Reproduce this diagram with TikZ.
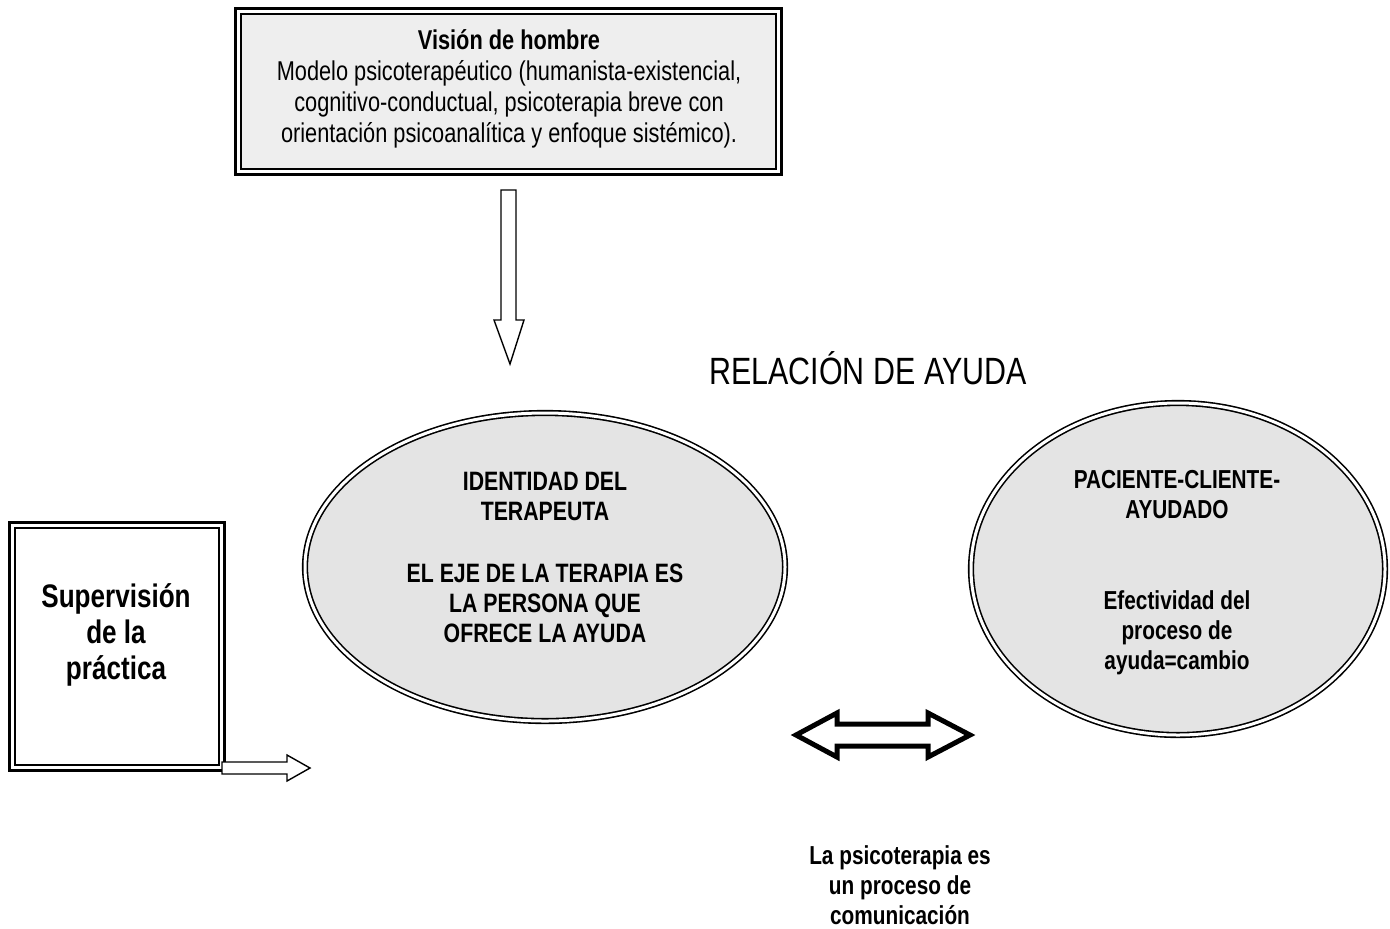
\documentclass[tikz,border=0pt]{standalone}
\usepackage{fontspec}
\setmainfont{Liberation Sans}
\newfontfamily\nar[FakeStretch=0.80]{Liberation Sans}
\usetikzlibrary{shapes.geometric}
\definecolor{boxgray}{HTML}{EEEEEE}
\definecolor{ellgray}{HTML}{E4E4E4}
\tikzset{
  txt/.style={align=center, inner sep=0pt, font=\nar\fontsize{13}{15}\selectfont},
  btxt/.style={txt, font=\nar\bfseries\fontsize{13}{15}\selectfont},
  ell/.style={ellipse, draw, fill=ellgray, line width=0.8pt, double=white, double distance=1.5pt, inner sep=0pt},
  blockarrow/.style={draw, fill=white, line width=0.7pt, line join=miter},
}
\begin{document}
\begin{tikzpicture}[x=0.5pt,y=-0.5pt]
\useasboundingbox (0,0) rectangle (1390,928);
% top box
\draw[line width=1.5pt] (235,8) rectangle (781,174);
\draw[line width=0.9pt, fill=boxgray] (241,14) rectangle (776,169);
\node[txt, font=\nar\fontsize{13.6}{15.5}\selectfont] (vision) at (509,89)
 {{\bfseries Visión de hombre}\\Modelo psicoterapéutico (humanista-existencial,\\cognitivo-conductual, psicoterapia breve con\\orientación psicoanalítica y enfoque sistémico).};
% down arrow
\draw[blockarrow] (501,190) -- (516,190) -- (516,320) -- (524,320) -- (510,364) -- (494,320) -- (501,320) -- cycle;
% title
\node[txt, font=\nar\fontsize{19}{22}\selectfont] (rel) at (868,368) {RELACIÓN DE AYUDA};
% ellipses
\node[ell, minimum width=240pt, minimum height=154pt] (ter) at (545,567) {};
\node[btxt, font=\nar\bfseries\fontsize{13.3}{15}\selectfont] at (545,496) {IDENTIDAD DEL\\TERAPEUTA};
\node[btxt, font=\nar\bfseries\fontsize{13.3}{15}\selectfont] at (545,603) {EL EJE DE LA TERAPIA ES\\LA PERSONA QUE\\OFRECE LA AYUDA};
\node[ell, minimum width=207pt, minimum height=166pt] (pac) at (1178,569) {};
\node[btxt] at (1177,495) {PACIENTE-CLIENTE-\\AYUDADO};
\node[btxt] at (1177,633) {Efectividad del\\proceso de\\ayuda=cambio};
% left box
\draw[line width=1.5pt] (9,522) rectangle (224,770);
\draw[line width=0.9pt] (15,528) rectangle (219,765);
\node[btxt, font=\nar\bfseries\fontsize{16.3}{18}\selectfont] (sup) at (116,635) {Supervisión\\de la\\práctica};
% small arrow
\draw[blockarrow] (222,762) -- (287,762) -- (287,755) -- (310,768) -- (287,781) -- (287,774) -- (222,774) -- cycle;
% double arrow
\draw[line width=2.5pt, fill=white, line join=miter] (796,735) -- (837,713) -- (837,724) -- (928,724) -- (928,713) -- (970,735) -- (928,757) -- (928,746) -- (837,746) -- (837,757) -- cycle;
% bottom text
\node[btxt] (com) at (900,885) {La psicoterapia es\\un proceso de\\comunicación};
\end{tikzpicture}
\end{document}
